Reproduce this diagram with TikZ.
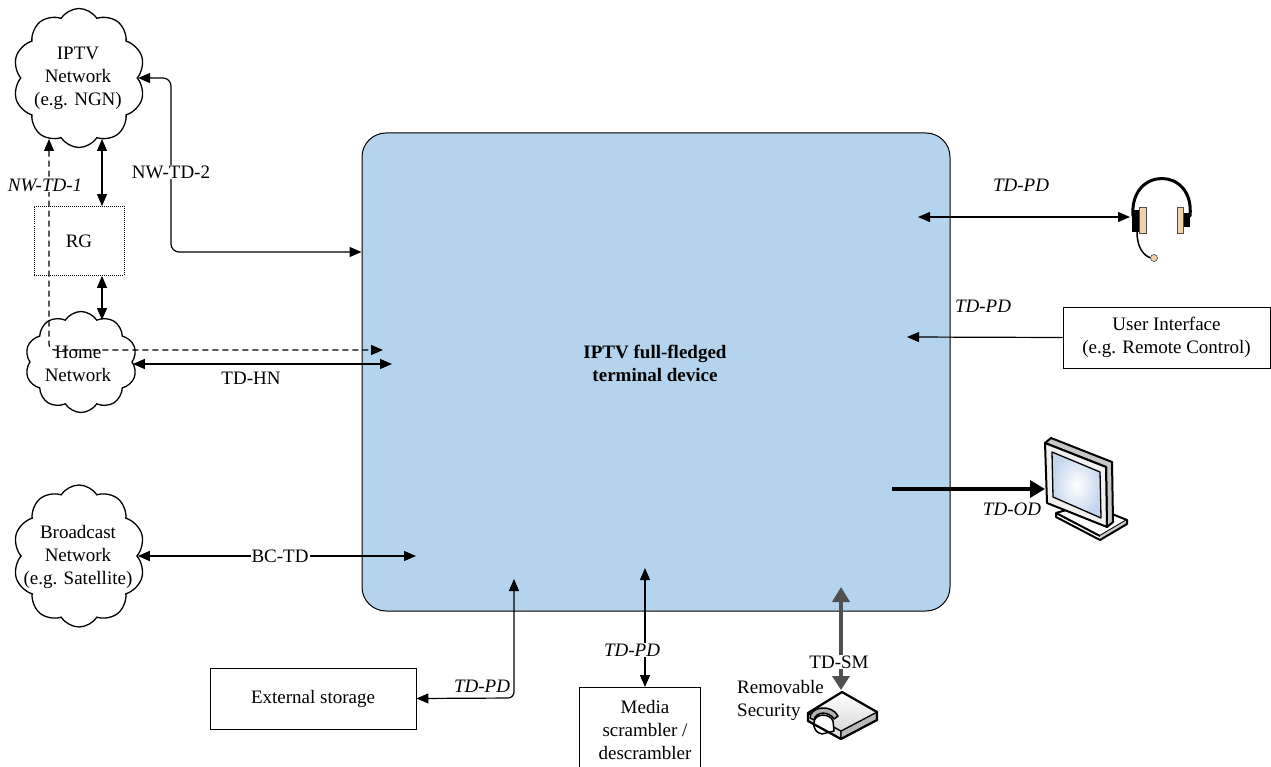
\documentclass[tikz,border=0pt]{standalone}
\usepackage{fontspec}
\setmainfont{Liberation Serif}
\usetikzlibrary{arrows.meta,shapes.symbols,calc}
\definecolor{tdblue}{RGB}{180,211,236}
\definecolor{earTan}{RGB}{241,208,170}
\definecolor{smgray}{RGB}{80,80,80}
\definecolor{scrblue}{RGB}{196,214,238}
\newcommand{\dfont}{\fontsize{19}{23}\selectfont}
\begin{document}
\begin{tikzpicture}[x=1pt,y=-1pt,
  thinln/.style={line width=1.2pt},
  dbl/.style={thinln,{Triangle[length=12pt,width=10pt]}-{Triangle[length=12pt,width=10pt]}},
  sgl/.style={thinln,-{Triangle[length=12pt,width=10pt]}},
  thk/.style={line width=3.5pt,-{Triangle[length=15pt,width=17pt]}},
  smarr/.style={draw=smgray,line width=4pt,{Triangle[length=15pt,width=17pt]}-{Triangle[length=14pt,width=17pt]},color=smgray},
  lbl/.style={font=\dfont,inner sep=1pt},
  ilbl/.style={font=\dfont\itshape,inner sep=1pt},
  boxn/.style={draw,line width=0.9pt,fill=white,font=\dfont,align=center},
  netcloud/.style={cloud,draw,line width=1.3pt,cloud puffs=10,cloud puff arc=115,cloud ignores aspect,inner sep=0pt},
  cloudtxt/.style={font=\dfont,align=center,inner sep=0pt},
  tdbox/.style={draw,line width=1pt,fill=tdblue,rounded corners=24pt,minimum width=588pt,minimum height=478pt}
]
\clip (0,0) rectangle (1271,767);
\fill[white] (0,0) rectangle (1271,767);

% main terminal device
\node[tdbox] (td) at (656,372) {};
\node[font=\dfont\bfseries,align=center] (title) at (655,363) {IPTV full-fledged\\terminal device};

% clouds
\node[netcloud,minimum width=132pt,minimum height=139pt] (iptv) at (79,78) {};
\node[cloudtxt] (iptvtxt) at (78,78) {IPTV\\Network\\(e.g. NGN)};
\node[netcloud,minimum width=112pt,minimum height=101pt] (home) at (81,362) {};
\node[cloudtxt] (hometxt) at (78,364) {Home\\Network};
\node[netcloud,minimum width=132pt,minimum height=142pt] (bc) at (79,556) {};
\node[cloudtxt] (bctxt) at (78,557) {Broadcast\\Network\\(e.g. Satellite)};

% RG
\node[draw,line width=0.8pt,dash pattern=on 1pt off 1pt,minimum width=90pt,minimum height=69pt,font=\dfont] (rg) at (79,241) {RG};

% boxes
\node[boxn,minimum width=207pt,minimum height=61pt] (ui) at (1166.5,337.5) {User Interface\\(e.g. Remote Control)};
\node[boxn,minimum width=206pt,minimum height=61pt] (ext) at (313,698.5) {External storage};
\node[boxn,minimum width=121pt,minimum height=110pt,anchor=north] (media) at (639.5,687) {};
\node[font=\dfont,align=center] (mediatxt) at (645,729.5) {Media\\scrambler /\\descrambler};

% RG links
\coordinate (iptvB) at (102,139);
\draw[dbl] (iptvB) -- (rg.north -| iptvB);
\coordinate (homeT) at (102,320);
\draw[dbl] (rg.south -| homeT) -- (homeT);

% NW-TD-2
\coordinate (nwv) at (171,78);
\draw[dbl,rounded corners=8pt] (iptv.east) -- (nwv) -- (171,252) -- (td.west |- 0,252);
\node[lbl,fill=white] (nw2) at (171,172) {NW-TD-2};

% NW-TD-1 dashed
\coordinate (nw1a) at (49,139);
\coordinate (nw1b) at (383,350);
\draw[dbl,dash pattern=on 6pt off 4pt,rounded corners=6pt] (nw1a) -- (49,350) -- (nw1b);
\node[ilbl,fill=white] (nw1) at (45,185) {NW-TD-1};

% TD-HN
\coordinate (hnE) at (392,364);
\draw[dbl] (home.east |- hnE) -- (hnE);
\node[lbl] (hn) at (251,378) {TD-HN};

% BC-TD
\coordinate (bcE) at (416,556);
\draw[dbl] (bc.east |- bcE) -- (bcE);
\node[lbl,fill=white] (bctd) at (280,556) {BC-TD};

% headset link
\coordinate (hsL) at (918,217);
\coordinate (hsR) at (1130,217);
\draw[dbl] (hsL) -- (hsR);
\node[ilbl] (pd1) at (1021,185) {TD-PD};

% UI link
\coordinate (uiE) at (907,337);
\draw[sgl] (ui.west) -- (uiE);
\node[ilbl] (pd2) at (983,306) {TD-PD};

% TD-OD
\coordinate (odL) at (892,489);
\coordinate (mon) at (1045,489);
\draw[thk] (odL) -- (mon);
\node[ilbl] (od) at (1012,509) {TD-OD};

% external storage link
\coordinate (extT) at (514,579);
\draw[dbl,rounded corners=6pt] (ext.east) -- (514,698) -- (extT);
\node[ilbl] (pd3) at (482,686) {TD-PD};

% media link
\coordinate (mdT) at (645,568);
\draw[dbl] (mdT) -- (media.north -| mdT);
\node[ilbl,fill=white] (pd4) at (632,650) {TD-PD};

% TD-SM
\coordinate (smT) at (841,587);
\coordinate (smB) at (841,690);
\draw[smarr] (smT) -- (smB);
\node[lbl,fill=white] (sm) at (839,662) {TD-SM};
\node[font=\dfont,align=left,anchor=west,inner sep=0pt] (rs) at (737,700.5) {Removable\\Security};

% security module icon
\begin{scope}[line join=round]
\filldraw[fill=gray!25,line width=1.2pt] (808,713) -- (841,731) -- (841,739) -- (808,721) -- cycle;
\filldraw[fill=gray!55,line width=1.2pt] (841,731) -- (877,712) -- (877,720) -- (841,739) -- cycle;
\shade[top color=white,bottom color=gray!30] (842,692) -- (877,712) -- (841,731) -- (808,713) -- cycle;
\draw[line width=1.2pt] (842,692) -- (877,712) -- (841,731) -- (808,713) -- cycle;
\filldraw[fill=gray!60,line width=1.5pt] (810,718) .. controls (810,706) and (832,704) .. (838,716) -- (834,719) .. controls (829,711) and (816,711) .. (814,720) -- cycle;
\filldraw[fill=white,line width=1.5pt] (814,722) .. controls (815,713) and (830,713) .. (833,721) -- (834,731) -- (822,734) .. controls (816,733) and (813,728) .. (814,722) -- cycle;
\draw[line width=2.2pt] (842,692) -- (877,712) -- (877,720) -- (841,739) -- (808,721) -- (808,713) -- cycle;
\end{scope}

% monitor icon
\begin{scope}[line join=round]
\filldraw[fill=white,line width=2pt] (1056,513) -- (1087,504) -- (1127,520) -- (1100,536) -- cycle;
\fill[gray!40] (1100,536) -- (1127,520) -- (1127,524) -- (1100,540) -- cycle;
\draw[line width=2pt] (1056,513) -- (1056,517) -- (1100,540) -- (1127,524) -- (1127,520);
\filldraw[fill=gray!45,line width=2pt] (1045,443) -- (1051,438) -- (1112,462) -- (1113,522) -- (1107,527) -- (1106,467) -- cycle;
\filldraw[fill=gray!12,line width=2pt] (1045,443) -- (1106,467) -- (1107,527) -- (1047,503) -- cycle;
\shade[inner color=white,outer color=scrblue] (1052,452) -- (1100,472) -- (1101,518) -- (1053,497) -- cycle;
\draw[line width=1.3pt] (1052,452) -- (1100,472) -- (1101,518) -- (1053,497) -- cycle;
\end{scope}

% headset icon
\begin{scope}
\draw[line width=3pt,line cap=round] (1133,216) .. controls (1129,166) and (1195,166) .. (1190,216);
\fill (1132,210) rectangle (1139,232);
\fill (1183,213) rectangle (1190,227);
\filldraw[fill=earTan,draw=gray!60!black,line width=0.6pt] (1139,207) rectangle (1146,233);
\filldraw[fill=earTan,draw=gray!60!black,line width=0.6pt] (1177,207) rectangle (1183,233);
\draw[line width=1.5pt] (1137,232) .. controls (1137,248) and (1144,256) .. (1151,258);
\filldraw[fill=earTan,draw=gray!60!black,line width=0.6pt] (1154,258) circle (3.5pt);
\end{scope}
\end{tikzpicture}
\end{document}
